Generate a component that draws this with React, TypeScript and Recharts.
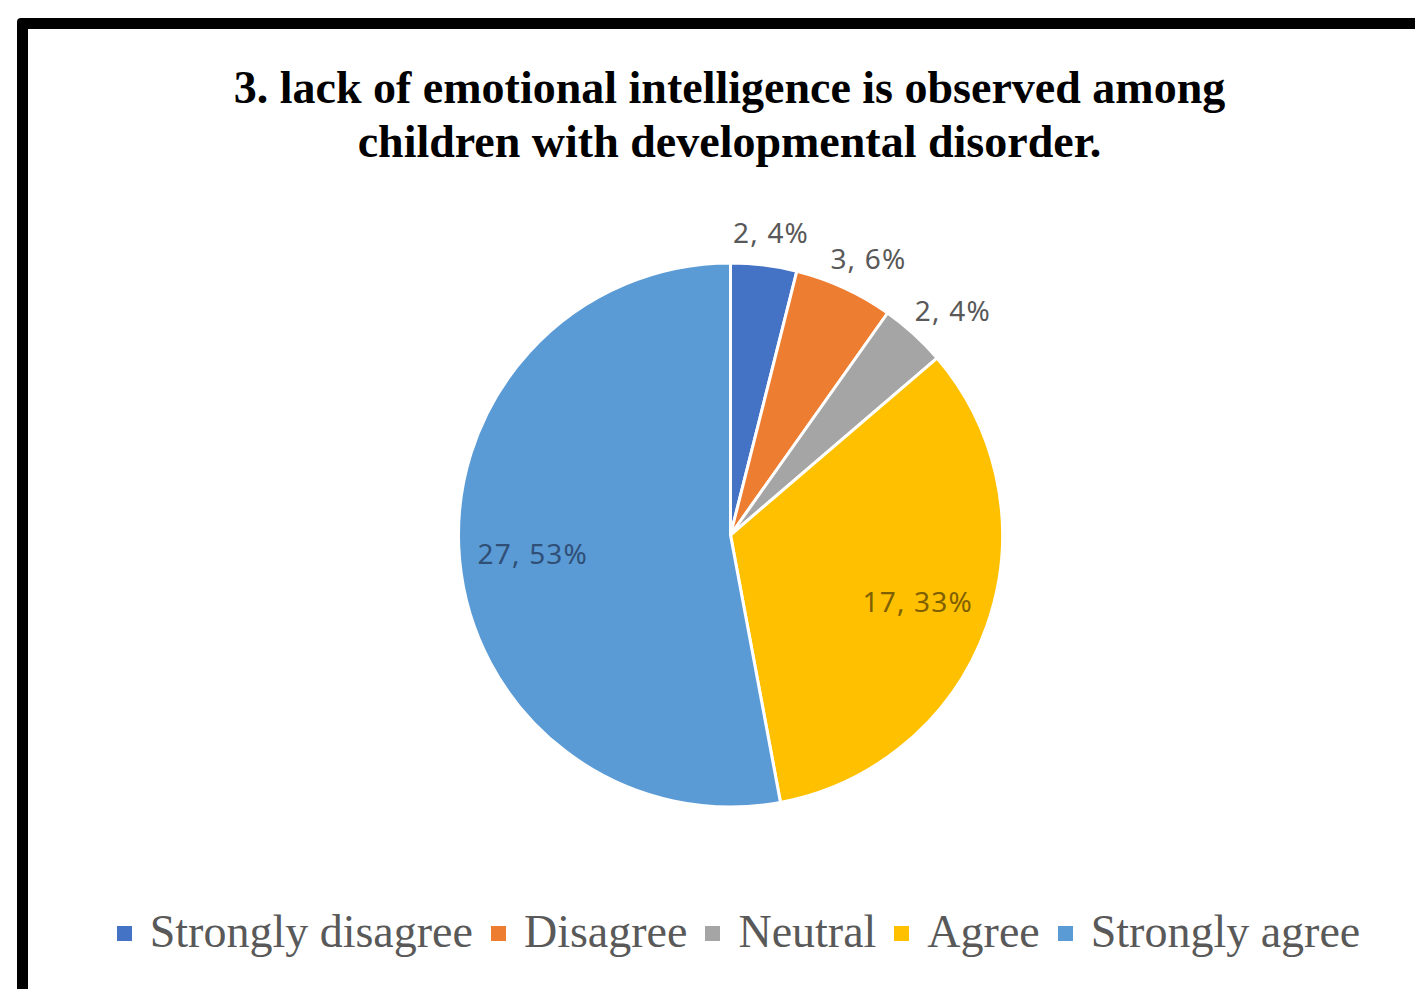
import React from 'react';
import { PieChart, Pie, Cell, Legend } from 'recharts';

const categories = ['Strongly disagree', 'Disagree', 'Neutral', 'Agree', 'Strongly agree'];
const counts = [2, 3, 2, 17, 27];
const colors = ['#4472C4', '#ED7D31', '#A5A5A5', '#FFC000', '#5B9BD5'];
const insideLabelColors = ['#595959', '#595959', '#595959', '#7F6000', '#2F4F77'];
const titleLines = ['3. lack of emotional intelligence is observed among', 'children with developmental disorder.'];

const data = categories.map((name, i) => ({ name, value: counts[i] }));

const RAD = Math.PI / 180;

const renderLabel = (props: any) => {
    const { cx, cy, midAngle, outerRadius, percent, value, index } = props;
    const c = Math.cos(midAngle * RAD);
    const s = Math.sin(midAngle * RAD);
    const text = `${value}, ${Math.round(percent * 100)}%`;
    let x: number;
    let y: number;
    let fill: string;
    if (percent < 0.1) {
        const r = outerRadius + 20;
        x = cx + r * c + 38 * c;
        y = cy - r * s - 13 * s;
        fill = '#595959';
    } else {
        const r = outerRadius * 0.73;
        x = cx + r * c;
        y = cy - r * s;
        fill = insideLabelColors[index];
    }
    return (
        <text x={x} y={y} fill={fill} textAnchor="middle" dominantBaseline="central"
            fontSize={28} letterSpacing={1.2} fontFamily="'Noto Sans', sans-serif">
            {text}
        </text>
    );
};

const renderLegend = () => (
    <div style={{ display: 'flex', justifyContent: 'center', alignItems: 'center', fontFamily: "'Liberation Serif', 'Times New Roman', serif", fontSize: 46, color: '#595959', whiteSpace: 'nowrap' }}>
        {categories.map((name, i) => (
            <span key={name} style={{ display: 'inline-flex', alignItems: 'center', marginRight: i < categories.length - 1 ? 18 : 0 }}>
                <span style={{ display: 'inline-block', width: 15, height: 15, background: colors[i], marginRight: 18, marginTop: 4 }} />
                {name}
            </span>
        ))}
    </div>
);

export default function App() {
    return (
        <div style={{ position: 'fixed', left: 0, top: 0, width: 1415, height: 989, overflow: 'hidden', background: '#fff' }}>
            <div style={{ position: 'absolute', left: 17, top: 18, width: 1500, height: 1100, border: '11px solid #000', borderRadius: 4 }} />
            <div style={{ position: 'absolute', left: 22, top: 61, width: 1415, textAlign: 'center', fontFamily: "'Liberation Serif', 'Times New Roman', serif", fontWeight: 'bold', fontSize: 46, lineHeight: '54px', color: '#000' }}>
                {titleLines.map((l) => <div key={l}>{l}</div>)}
            </div>
            <div style={{ position: 'absolute', left: 0, top: 0 }}>
                <PieChart width={1415} height={989} margin={{ top: 0, right: 0, bottom: 0, left: 0 }}>
                    <Pie
                        data={data}
                        dataKey="value"
                        nameKey="name"
                        cx={730.5}
                        cy={535}
                        outerRadius={272}
                        startAngle={90}
                        endAngle={-270}
                        stroke="#fff"
                        strokeWidth={3}
                        label={renderLabel}
                        labelLine={false}
                        isAnimationActive={false}
                    >
                        {data.map((d, i) => <Cell key={d.name} fill={colors[i]} />)}
                    </Pie>
                    <Legend content={renderLegend} wrapperStyle={{ left: 31, top: 905, width: 1415 }} />
                </PieChart>
            </div>
        </div>
    );
}
